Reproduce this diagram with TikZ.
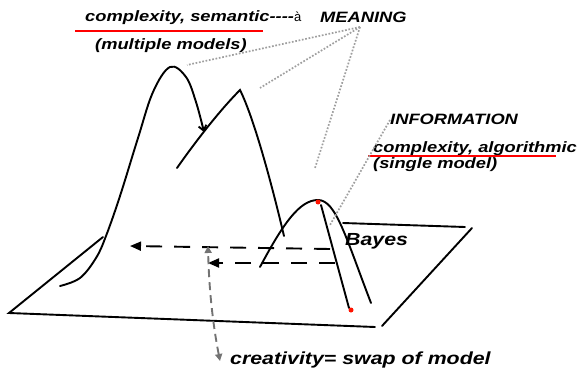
\documentclass[tikz,border=0pt]{standalone}
\usepackage{fontspec}
\newfontfamily\lab[FakeStretch=1.22]{Liberation Sans}
\newfontfamily\plainlab{Liberation Sans}
\usetikzlibrary{arrows.meta}
\begin{document}
\begin{tikzpicture}[x=1pt,y=-1pt,
  line/.style={line width=1.9pt, black, line cap=round},
  dotline/.style={gray!75, line width=1.7pt, dash pattern=on 1.7pt off 1.7pt},
  dasharrow/.style={line width=1.9pt, black, dash pattern=on 16pt off 12pt, -{Triangle[length=11pt,width=9pt]}},
  grayarrow/.style={line width=1.9pt, gray!90!black, dash pattern=on 8pt off 5pt, {Triangle[length=7pt,width=7pt]}-{Triangle[length=7pt,width=7pt]}},
  lbl/.style={inner sep=0pt, anchor=base west, font=\lab\fontsize{15}{17}\selectfont\bfseries\itshape},
  biglbl/.style={inner sep=0pt, anchor=base west, font=\lab\fontsize{17.5}{19}\selectfont\bfseries\itshape},
  redline/.style={red, line width=1.5pt},
  reddot/.style={circle, fill=red!85!orange, inner sep=0pt, minimum size=5pt}]
\useasboundingbox (0,0) rectangle (581,369);

% texts
\node[lbl] (sem) at (85,22) {complexity, semantic----{\plainlab\mdseries\upshape\fontsize{13}{15}\selectfont à}};
\node[lbl] (mean) at (320,23) {MEANING};
\node[lbl] (mult) at (95,49) {(multiple models)};
\node[lbl] (info) at (390,124) {INFORMATION};
\node[lbl] (alg) at (373,152) {complexity, algorithmic};
\node[lbl] (single) at (373,168) {(single model)};
\node[biglbl] (bayes) at (345,245) {Bayes};
\node[biglbl] (creat) at (230,364) {creativity= swap of model};

% red underlines
\coordinate (r1a) at (75,31); \coordinate (r1b) at (263,31);
\coordinate (r2a) at (368,156); \coordinate (r2b) at (556,156);
\draw[redline] (r1a) -- (r1b);
\draw[redline] (r2a) -- (r2b);

% plane
\coordinate (pL) at (9,313);
\coordinate (pLt) at (103,237);
\coordinate (pB) at (375,327);
\coordinate (pBr) at (382,326);
\coordinate (pR) at (472,228);
\coordinate (pT1) at (343,223);
\coordinate (pT2) at (465,227);
\draw[line] (pLt) -- (pL) -- (pB);
\draw[line] (pBr) -- (pR);
\draw[line] (pT1) -- (pT2);

% big peak
\draw[line, -{Straight Barb[length=5pt,width=8pt]}] plot[smooth, tension=0.6] coordinates
  {(60,286) (80,278) (96,258) (106,236) (120,196) (138,138) (153,92) (170,67) (186,77) (196,102) (204,132)};

% second peak
\coordinate (s1) at (177,168);
\coordinate (s2) at (240,90);
\coordinate (s3) at (284,236);
\draw[line] (s1) .. controls (198,138) and (222,108) .. (s2)
            .. controls (254,118) and (272,185) .. (s3);

% third peak
\coordinate (t1) at (260,267);
\coordinate (t2) at (318,200);
\coordinate (t3) at (371,303);
\draw[line] (t1) .. controls (284,222) and (300,200) .. (t2)
            .. controls (336,200) and (346,238) .. (t3);
\coordinate (u1) at (321,205);
\coordinate (u2) at (349,308);
\draw[line] (u1) -- (u2);
\node[reddot] (d1) at (318,202) {};
\node[reddot] (d2) at (351,310) {};

% dashed arrows
\coordinate (a1s) at (330,249); \coordinate (a1e) at (130,246);
\coordinate (a2s) at (335,263); \coordinate (a2e) at (208,263);
\draw[dasharrow] (a1s) -- (a1e);
\draw[dasharrow] (a2s) -- (a2e);

% gray double arrow
\coordinate (g1) at (208,246);
\coordinate (g2) at (220,361);
\draw[grayarrow] (g2) .. controls (213,325) and (209,290) .. (g1);

% dotted lines
\coordinate (m) at (360,27);
\coordinate (m1) at (187,65);
\coordinate (m2) at (260,88);
\coordinate (m3) at (315,168);
\draw[dotline] (m) -- (m1);
\draw[dotline] (m) -- (m2);
\draw[dotline] (m) -- (m3);
\coordinate (i1) at (390,120);
\coordinate (i2) at (330,225);
\draw[dotline] (i1) -- (i2);
\end{tikzpicture}
\end{document}
